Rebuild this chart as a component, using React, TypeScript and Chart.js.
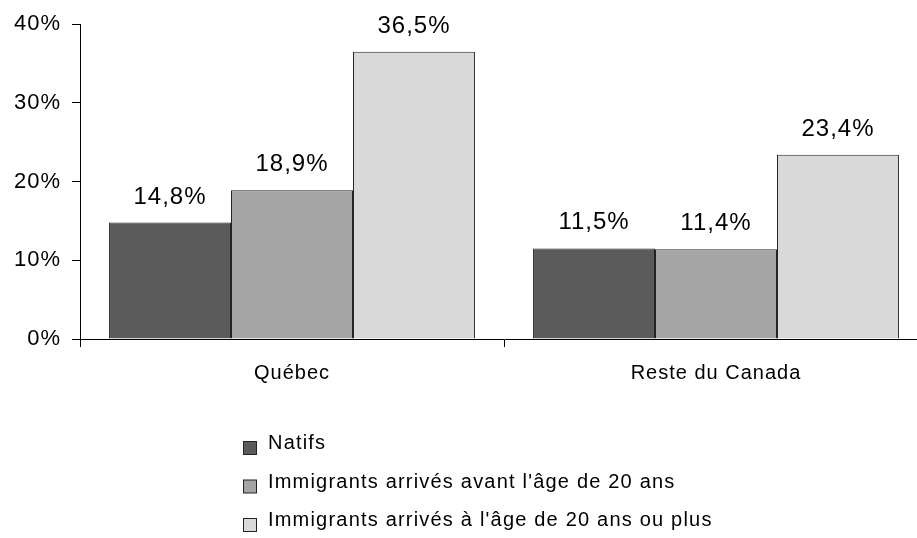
import React, { useEffect, useRef } from 'react';
import { Chart, registerables } from 'chart.js';

Chart.register(...registerables);

const categories = ['Québec', 'Reste du Canada'];
const seriesLabels = [
  'Natifs',
  "Immigrants arrivés avant l'âge de 20 ans",
  "Immigrants arrivés à l'âge de 20 ans ou plus",
];
const natifs = [14.8, 11.5];
const avant20 = [18.9, 11.4];
const apres20 = [36.5, 23.4];
const yTicks = [0, 10, 20, 30, 40];
const colors = ['#5b5b5b', '#a5a5a5', '#d9d9d9'];

const FONT = '"Liberation Sans", Arial, sans-serif';

const fmt = (v: number) => v.toFixed(1).replace('.', ',') + '%';

const spacingPlugin = {
  id: 'spacing',
  beforeDraw(chart: any) {
    try {
      chart.ctx.letterSpacing = '1px';
    } catch (e) {}
  },
};

const valueLabels = {
  id: 'valueLabels',
  afterDatasetsDraw(chart: any) {
    const ctx = chart.ctx;
    ctx.save();
    ctx.font = `24px ${FONT}`;
    ctx.fillStyle = '#000';
    ctx.textAlign = 'center';
    ctx.textBaseline = 'alphabetic';
    chart.data.datasets.forEach((ds: any, i: number) => {
      const meta = chart.getDatasetMeta(i);
      meta.data.forEach((bar: any, j: number) => {
        ctx.fillText(fmt(ds.data[j]), bar.x, bar.y - 19);
      });
    });
    ctx.restore();
  },
};

const customLegend = {
  id: 'customLegend',
  afterDraw(chart: any) {
    const ctx = chart.ctx;
    ctx.save();
    ctx.font = `20px ${FONT}`;
    try {
      ctx.letterSpacing = '1.2px';
    } catch (e) {}
    ctx.textAlign = 'left';
    ctx.textBaseline = 'alphabetic';
    chart.data.datasets.forEach((ds: any, i: number) => {
      const base = 449 + i * 38.5;
      ctx.fillStyle = ds.backgroundColor;
      ctx.fillRect(243.5, base - 7.5, 13, 13);
      ctx.strokeStyle = '#222';
      ctx.lineWidth = 1;
      ctx.strokeRect(243.5, base - 7.5, 13, 13);
      ctx.fillStyle = '#000';
      ctx.fillText(ds.label, 268, base);
    });
    ctx.restore();
  },
};

export default function App() {
  const ref = useRef<HTMLCanvasElement>(null);

  useEffect(() => {
    if (!ref.current) return;
    Chart.defaults.font.family = FONT;
    const chart = new Chart(ref.current, {
      type: 'bar',
      data: {
        labels: categories,
        datasets: [natifs, avant20, apres20].map((d, i) => ({
          label: seriesLabels[i],
          data: d,
          backgroundColor: colors[i],
          borderColor: '#222',
          borderWidth: 1,
          categoryPercentage: 0.863,
          barPercentage: 1,
        })),
      },
      options: {
        responsive: false,
        animation: false,
        events: [],
        layout: { padding: { top: 24, right: 7, bottom: 0, left: 0 } },
        plugins: {
          legend: { display: false },
          tooltip: { enabled: false },
        },
        scales: {
          x: {
            type: 'category',
            offset: true,
            grid: {
              display: true,
              drawOnChartArea: false,
              drawTicks: true,
              tickLength: 8,
              color: '#000',
              offset: true,
            },
            border: { display: true, color: '#000', width: 1 },
            ticks: { font: { family: FONT, size: 20 }, color: '#000', padding: 14 },
            afterFit: (s: any) => {
              s.height = 199;
            },
          },
          y: {
            min: 0,
            max: 40,
            afterBuildTicks: (s: any) => {
              s.ticks = yTicks.map((v) => ({ value: v }));
            },
            ticks: {
              font: { family: FONT, size: 22 },
              color: '#000',
              padding: 11,
              callback: (v: any) => v + '%',
            },
            grid: {
              drawOnChartArea: false,
              drawTicks: true,
              tickLength: 8,
              color: '#000',
            },
            border: { display: true, color: '#000', width: 1 },
            afterFit: (s: any) => {
              s.width = 80;
            },
          },
        },
      } as any,
      plugins: [spacingPlugin, valueLabels, customLegend],
    });
    return () => chart.destroy();
  }, []);

  return (
    <div
      style={{
        position: 'fixed',
        left: 0,
        top: 0,
        width: 917,
        height: 538,
        overflow: 'hidden',
        background: '#fff',
      }}
    >
      <canvas ref={ref} width={935} height={538} style={{ display: 'block' }} />
    </div>
  );
}
